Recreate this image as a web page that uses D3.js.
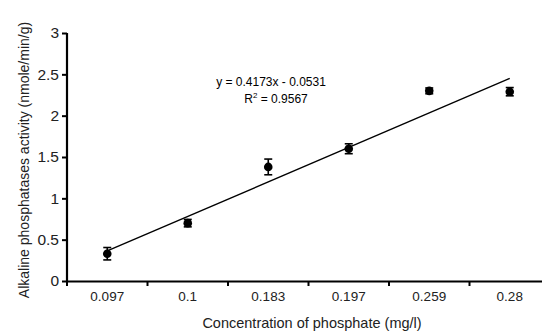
<!DOCTYPE html>
<html>
<head>
<meta charset="utf-8">
<script src="https://cdn.jsdelivr.net/npm/d3@7"></script>
<style>
  body { margin: 0; background: #fff; }
  svg { display: block; font-family: "Liberation Sans", Arial, sans-serif; }
</style>
</head>
<body>
<div id="chart"></div>
<script>
// phosphate concentration categories (mg/l)
const categories = ['0.097', '0.1', '0.183', '0.197', '0.259', '0.28'];
// alkaline phosphatase activity (nmole/min/g) and error bar half-widths
const activity = [0.33, 0.70, 1.38, 1.60, 2.30, 2.29];
const errors = [0.075, 0.045, 0.095, 0.06, 0.035, 0.05];
const yTicks = [0, 0.5, 1, 1.5, 2, 2.5, 3];
// linear trend shown on the chart
const slope = 0.4173;
const intercept = -0.0531;

const width = 542;
const height = 331;
const margin = { left: 67, top: 33, right: -8, bottom: 50 };

const svg = d3.select('#chart')
  .append('svg')
  .attr('width', width)
  .attr('height', height);

const x = d3.scaleBand()
  .domain(categories)
  .range([margin.left, width - margin.right])
  .padding(0);

const y = d3.scaleLinear()
  .domain([0, 3])
  .range([height - margin.bottom, margin.top]);

const cx = c => x(c) + x.bandwidth() / 2;

// Y axis
const yAxis = svg.append('g')
  .attr('transform', `translate(${margin.left},0)`)
  .call(d3.axisLeft(y).tickValues(yTicks).tickSize(5).tickPadding(3).tickFormat(d3.format('')));
yAxis.select('.domain').attr('stroke-width', 2.2).attr('d', `M0,${y(0)}V${y(3)}`);
yAxis.selectAll('.tick line').attr('stroke-width', 2);
yAxis.selectAll('.tick text').attr('font-size', 15.5).attr('font-family', 'Liberation Sans, Arial, sans-serif').attr('fill', '#222');

// X axis (labels centred in bands, ticks on band boundaries)
const xAxis = svg.append('g')
  .attr('transform', `translate(0,${y(0)})`)
  .call(d3.axisBottom(x).tickSize(0).tickPadding(10));
xAxis.select('.domain').attr('stroke-width', 2.2);
xAxis.selectAll('.tick text').attr('font-size', 13.5).attr('font-family', 'Liberation Sans, Arial, sans-serif').attr('fill', '#222');

const bounds = categories.map(c => x(c)).concat([x.range()[1]]);
xAxis.selectAll('.bound')
  .data(bounds)
  .join('line')
  .attr('class', 'bound')
  .attr('x1', d => d).attr('x2', d => d)
  .attr('y1', 0).attr('y2', 5)
  .attr('stroke', '#000')
  .attr('stroke-width', 2);

// Trend line
const trend = [1, categories.length].map(i => ({ c: categories[i - 1], v: slope * i + intercept }));
svg.append('line')
  .attr('x1', cx(trend[0].c)).attr('y1', y(trend[0].v))
  .attr('x2', cx(trend[1].c)).attr('y2', y(trend[1].v))
  .attr('stroke', '#000')
  .attr('stroke-width', 1.4);

// Error bars
const pts = categories.map((c, i) => ({ c, v: activity[i], e: errors[i] }));
const eb = svg.append('g').selectAll('g')
  .data(pts)
  .join('g')
  .attr('stroke', '#000')
  .attr('stroke-width', 1.6);
eb.append('line')
  .attr('x1', d => cx(d.c)).attr('x2', d => cx(d.c))
  .attr('y1', d => y(d.v - d.e)).attr('y2', d => y(d.v + d.e));
eb.append('line')
  .attr('x1', d => cx(d.c) - 4).attr('x2', d => cx(d.c) + 4)
  .attr('y1', d => y(d.v + d.e)).attr('y2', d => y(d.v + d.e));
eb.append('line')
  .attr('x1', d => cx(d.c) - 4).attr('x2', d => cx(d.c) + 4)
  .attr('y1', d => y(d.v - d.e)).attr('y2', d => y(d.v - d.e));

// Points
svg.append('g').selectAll('circle')
  .data(pts)
  .join('circle')
  .attr('cx', d => cx(d.c))
  .attr('cy', d => y(d.v))
  .attr('r', 4.3)
  .attr('fill', '#000');

// Equation
svg.append('text')
  .attr('x', 271).attr('y', 86)
  .attr('text-anchor', 'middle')
  .attr('font-size', 12)
  .text(`y = ${slope}x - ${Math.abs(intercept)}`);
const r2 = svg.append('text')
  .attr('x', 276).attr('y', 103)
  .attr('text-anchor', 'middle')
  .attr('font-size', 12);
r2.append('tspan').text('R');
r2.append('tspan').attr('dy', -5).attr('font-size', 8).text('2');
r2.append('tspan').attr('dy', 5).text(' = 0.9567');

// Axis titles
svg.append('text')
  .attr('x', 312).attr('y', 328)
  .attr('text-anchor', 'middle')
  .attr('font-size', 14.5)
  .attr('fill', '#222')
  .text('Concentration of phosphate (mg/l)');

svg.append('text')
  .attr('transform', 'translate(29,160) rotate(-90)')
  .attr('text-anchor', 'middle')
  .attr('font-size', 14)
  .attr('fill', '#222')
  .text('Alkaline phosphatases activity (nmole/min/g)');
</script>
</body>
</html>
